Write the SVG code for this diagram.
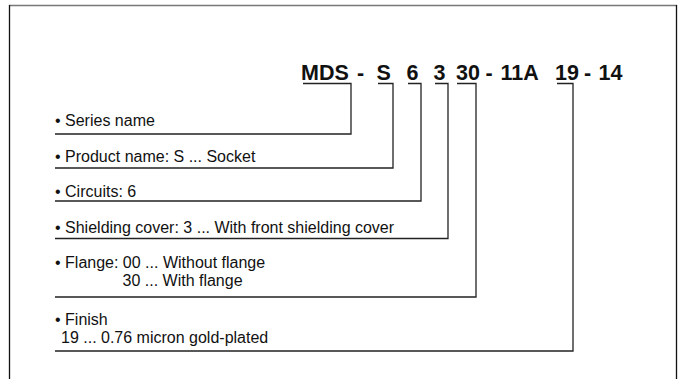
<svg xmlns="http://www.w3.org/2000/svg" width="683" height="379" viewBox="0 0 683 379">
<style>
.t{font-family:"Liberation Sans",Arial,sans-serif;font-size:16px;fill:#111}
.h{font-family:"Liberation Sans",Arial,sans-serif;font-size:21.5px;font-weight:bold;fill:#111}
.c{fill:none;stroke:#222;stroke-width:1.3}
</style>
<rect width="683" height="379" fill="#fff"/>
<g id="frame">
<line x1="9" y1="5.5" x2="677" y2="5.5" stroke="#777" stroke-width="1.5"/>
<line x1="9.5" y1="5" x2="9.5" y2="379" stroke="#111" stroke-width="1.3"/>
<line x1="676.5" y1="5" x2="676.5" y2="379" stroke="#111" stroke-width="1.3"/>
</g>
<g id="code">
<text class="h" x="301" y="80">MDS</text>
<text class="h" x="357" y="80">-</text>
<text class="h" x="376.5" y="80">S</text>
<text class="h" x="406.5" y="80">6</text>
<text class="h" x="433.5" y="80">3</text>
<text class="h" x="456" y="80">30</text>
<text class="h" x="485.5" y="80">-</text>
<text class="h" x="500.5" y="80">11A</text>
<text class="h" x="555" y="80">19</text>
<text class="h" x="584" y="80">-</text>
<text class="h" x="598.5" y="80">14</text>
</g>
<g id="connectors">
<polyline class="c" points="303,83.5 351,83.5 351,134 55,134"/>
<polyline class="c" points="378,83.5 393,83.5 393,168 55,168"/>
<polyline class="c" points="408,83.5 421,83.5 421,201 55,201"/>
<polyline class="c" points="435,83.5 448,83.5 448,238.5 55,238.5"/>
<polyline class="c" points="457,83.5 476,83.5 476,297 55,297"/>
<polyline class="c" points="557,83.5 573,83.5 573,351 55,351"/>
</g>
<g id="series"><text class="t" x="55" y="126">• Series name</text></g>
<g id="product"><text class="t" x="55" y="161.5">• Product name: S ... Socket</text></g>
<g id="circuits"><text class="t" x="55" y="196.5">• Circuits: 6</text></g>
<g id="shielding"><text class="t" x="55" y="232.5">• Shielding cover: 3 ... With front shielding cover</text></g>
<g id="flange"><text class="t" x="55" y="268">• Flange: 00 ... Without flange</text><text class="t" x="122.5" y="286">30 ... With flange</text></g>
<g id="finish"><text class="t" x="55" y="325">• Finish</text><text class="t" x="61" y="343">19 ... 0.76 micron gold-plated</text></g>
</svg>
